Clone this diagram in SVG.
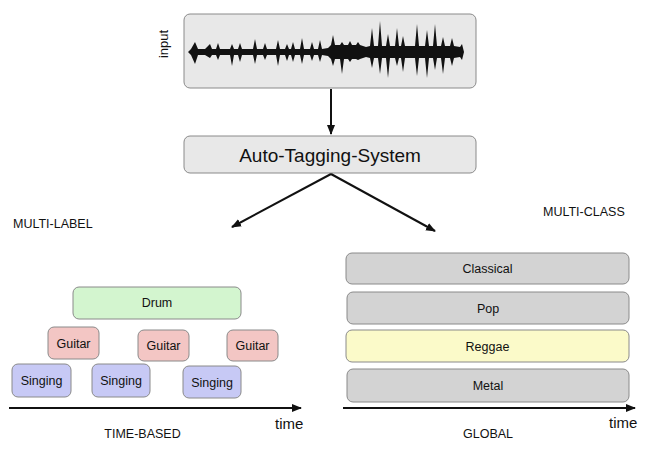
<svg xmlns="http://www.w3.org/2000/svg" width="650" height="454" viewBox="0 0 650 454">
<defs>
<style>
text{font-family:"Liberation Sans",Arial,sans-serif;fill:#111}
.n{stroke:#8a8a8a;stroke-width:1}
.lbl{font-size:12.5px;text-anchor:middle}
.drum{fill:#d3f5cf}
.gtr{fill:#f3c6c4}
.sng{fill:#c7c9f5}
.gry{fill:#d3d3d3}
.ylw{fill:#fbfac9}
.box{fill:#e8e8e8;stroke:#8a8a8a;stroke-width:1}
.edge{stroke:#111;stroke-width:2;fill:none}
</style>
<marker id="ah" viewBox="0 0 10 10" refX="9" refY="5" markerWidth="5" markerHeight="5" orient="auto" markerUnits="strokeWidth">
<path d="M0,1 L10,5 L0,9 z" fill="#111"/>
</marker>
</defs>
<rect width="650" height="454" fill="#fff"/>

<g id="input">
<rect class="box" x="184" y="14" width="292" height="74" rx="6"/>
<path fill="#111" d="M188,52 L191,49 L195,42 L198,49 L205,49 L210,44 L212,49 L216,49 L218,43 L220,49 L230,49 L232,44 L234,49 L238,49 L240,43 L242,49 L253,49 L255,39 L257,49 L263,49 L265,43 L267,49 L276,49 L278,40 L280,49 L285,49 L287,44 L289,49 L291,49 L293,42 L295,49 L300,49 L302,38 L304,49 L310,49 L312,42 L314,49 L318,49 L320,40 L322,49 L328,48 L331,45 L333,35 L335,45 L340,45 L342,42 L344,45 L348,45 L350,41 L352,45 L356,45 L358,42 L360,45 L366,47 L370,46 L372,28 L374,46 L378,46 L380,21 L382,46 L386,46 L388,34 L390,46 L395,46 L397,28 L399,46 L401,46 L403,36 L405,46 L415,46 L417,24 L419,46 L425,46 L427,30 L429,46 L433,46 L435,24 L437,46 L441,46 L443,37 L445,46 L450,46 L452,38 L454,46 L460,47 L462,44 L464,52 L462,60 L460,57 L454,58 L452,66 L450,58 L445,58 L443,74 L441,58 L437,58 L435,70 L433,58 L429,58 L427,78 L425,58 L419,58 L417,76 L415,58 L405,58 L403,72 L401,58 L399,58 L397,66 L395,58 L390,58 L388,78 L386,58 L382,58 L380,74 L378,58 L374,58 L372,68 L370,58 L366,57 L360,59 L358,60 L356,59 L352,59 L350,62 L348,59 L344,59 L342,74 L340,59 L335,59 L333,66 L331,59 L328,56 L322,55 L320,62 L318,55 L314,55 L312,61 L310,55 L304,55 L302,64 L300,55 L295,55 L293,62 L291,55 L289,55 L287,61 L285,55 L280,55 L278,66 L276,55 L267,55 L265,60 L263,55 L257,55 L255,64 L253,55 L242,55 L240,62 L238,55 L234,55 L232,66 L230,55 L220,55 L218,60 L216,55 L212,55 L210,58 L205,55 L198,55 L195,64 L191,55 Z"/>
<text x="168" y="44" font-size="13" text-anchor="middle" transform="rotate(-90 168 44)">input</text>
</g>

<g id="system">
<rect class="box" x="184" y="136" width="292" height="37" rx="6"/>
<text x="330" y="161.5" font-size="19" text-anchor="middle">Auto-Tagging-System</text>
</g>

<g id="connectors">
<line class="edge" x1="331" y1="89" x2="331" y2="134" marker-end="url(#ah)"/>
<line class="edge" x1="331" y1="174" x2="232" y2="227" marker-end="url(#ah)"/>
<line class="edge" x1="331" y1="174" x2="435" y2="231" marker-end="url(#ah)"/>
<line class="edge" x1="9" y1="408" x2="301" y2="408" marker-end="url(#ah)"/>
<line class="edge" x1="343" y1="408" x2="635" y2="408" marker-end="url(#ah)"/>
</g>

<g id="labels">
<text x="13" y="228" font-size="12.5">MULTI-LABEL</text>
<text x="543" y="216" font-size="12.5">MULTI-CLASS</text>
<text x="142.5" y="438" font-size="12.5" text-anchor="middle">TIME-BASED</text>
<text x="488" y="438" font-size="12.5" text-anchor="middle">GLOBAL</text>
<text x="275" y="429" font-size="15">time</text>
<text x="609" y="428" font-size="15">time</text>
</g>

<g id="drum"><rect class="n drum" x="73" y="287" width="168" height="32" rx="6"/><text class="lbl" x="157" y="307">Drum</text></g>
<g id="guitar1"><rect class="n gtr" x="48" y="327" width="51" height="32" rx="6"/><text class="lbl" x="73.5" y="347.5">Guitar</text></g>
<g id="guitar2"><rect class="n gtr" x="138" y="330" width="51" height="31" rx="6"/><text class="lbl" x="163.5" y="350">Guitar</text></g>
<g id="guitar3"><rect class="n gtr" x="227" y="330" width="51" height="31" rx="6"/><text class="lbl" x="252.5" y="350">Guitar</text></g>
<g id="singing1"><rect class="n sng" x="12" y="364" width="59" height="33" rx="6"/><text class="lbl" x="41.5" y="385">Singing</text></g>
<g id="singing2"><rect class="n sng" x="92" y="364" width="58" height="33" rx="6"/><text class="lbl" x="121" y="385">Singing</text></g>
<g id="singing3"><rect class="n sng" x="183" y="366" width="58" height="32" rx="6"/><text class="lbl" x="212" y="387">Singing</text></g>

<g id="classical"><rect class="n gry" x="346" y="253" width="283" height="31" rx="6"/><text class="lbl" x="487.5" y="273">Classical</text></g>
<g id="pop"><rect class="n gry" x="347" y="292" width="282" height="32" rx="6"/><text class="lbl" x="488" y="312.5">Pop</text></g>
<g id="reggae"><rect class="n ylw" x="346" y="330" width="283" height="32" rx="6"/><text class="lbl" x="487.5" y="350.5">Reggae</text></g>
<g id="metal"><rect class="n gry" x="347" y="369" width="282" height="33" rx="6"/><text class="lbl" x="488" y="390">Metal</text></g>
</svg>
